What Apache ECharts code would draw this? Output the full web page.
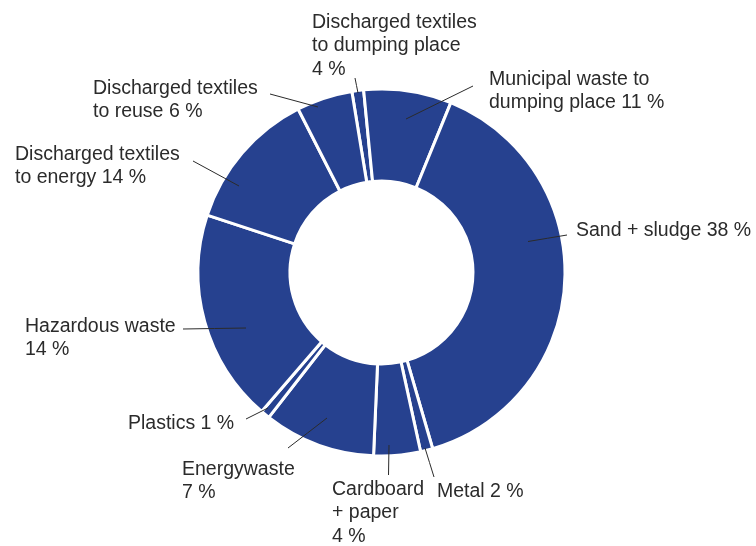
<!DOCTYPE html>
<html>
<head>
<meta charset="utf-8">
<script src="https://cdn.jsdelivr.net/npm/echarts@6/dist/echarts.min.js"></script>
<style>
html,body{margin:0;padding:0;background:#fff;}
#chart{width:756px;height:546px;}
</style>
</head>
<body>
<div id="chart"></div>
<script>
// Categories in drawing order (clockwise from just left of 12 o'clock)
const categories = [
  'Discharged textiles to dumping place',
  'Municipal waste to dumping place',
  'Sand + sludge',
  'Metal',
  'Cardboard + paper',
  'Energywaste',
  'Plastics',
  'Hazardous waste',
  'Discharged textiles to energy',
  'Discharged textiles to reuse'
];
// Slice sizes (share of full circle, %)
const sliceValues = [1.03, 7.72, 39.33, 1.08, 4.11, 9.83, 0.81, 18.72, 12.44, 4.92];
// Percentages as printed in the labels
const printedPercent = [4, 11, 38, 2, 4, 7, 1, 14, 14, 6];
// Label text (line breaks as in the picture)
const labelTexts = [
  'Discharged textiles\nto dumping place\n4 %',
  'Municipal waste to\ndumping place 11 %',
  'Sand + sludge 38 %',
  'Metal 2 %',
  'Cardboard\n+ paper\n4 %',
  'Energywaste\n7 %',
  'Plastics 1 %',
  'Hazardous waste\n14 %',
  'Discharged textiles\nto energy 14 %',
  'Discharged textiles\nto reuse 6 %'
];

// Layout of labels: text anchor (left, vertical middle) and leader line ends
const labelLayoutSpec = [
  {tx: 312, ty: 46,  a: [355, 78],  b: [358, 93]},
  {tx: 489, ty: 91,  a: [473, 86],  b: [406, 119]},
  {tx: 576, ty: 231, a: [567, 235], b: [528, 241.5]},
  {tx: 437, ty: 492, a: [434, 477], b: [425, 448]},
  {tx: 332, ty: 513, a: [388.5, 475], b: [389, 445]},
  {tx: 182, ty: 481, a: [288, 448], b: [327, 418]},
  {tx: 128, ty: 424, a: [246, 419], b: [268, 408]},
  {tx: 25,  ty: 338, a: [183, 329], b: [246, 328]},
  {tx: 15,  ty: 166, a: [193, 161], b: [239, 186]},
  {tx: 93,  ty: 100, a: [270, 94],  b: [318, 107]}
];

const chart = echarts.init(document.getElementById('chart'), null, {renderer: 'canvas'});

const sliceData = categories.map((c, i) => ({name: c, value: sliceValues[i]}));
const labelData = categories.map((c, i) => ({
  name: c,
  value: sliceValues[i],
  printed: printedPercent[i],
  label: {formatter: labelTexts[i]}
}));

const common = {
  type: 'pie',
  center: [381.5, 272.5],
  radius: [91.5, 183.5],
  startAngle: 99.3,
  clockwise: true,
  avoidLabelOverlap: false,
  silent: true
};

chart.setOption({
  backgroundColor: '#ffffff',
  animation: false,
  series: [
    Object.assign({}, common, {
      z: 2,
      itemStyle: {color: '#26418f', borderColor: '#ffffff', borderWidth: 3},
      label: {show: false},
      labelLine: {show: false},
      data: sliceData
    }),
    Object.assign({}, common, {
      z: 5,
      itemStyle: {color: 'rgba(0,0,0,0)', borderWidth: 0},
      label: {
        show: true,
        position: 'outside',
        color: '#2b2b2b',
        fontFamily: 'Liberation Sans',
        fontSize: 19.5,
        lineHeight: 23.5,
        align: 'left'
      },
      labelLine: {
        show: true,
        length: 10,
        length2: 10,
        smooth: false,
        lineStyle: {color: '#2b2b2b', width: 1}
      },
      labelLayout: function (p) {
        const s = labelLayoutSpec[p.dataIndex];
        const mid = [(s.a[0] + s.b[0]) / 2, (s.a[1] + s.b[1]) / 2];
        return {
          x: s.tx,
          y: s.ty,
          align: 'left',
          verticalAlign: 'middle',
          labelLinePoints: [s.b, mid, s.a]
        };
      },
      data: labelData
    })
  ]
});
</script>
</body>
</html>
